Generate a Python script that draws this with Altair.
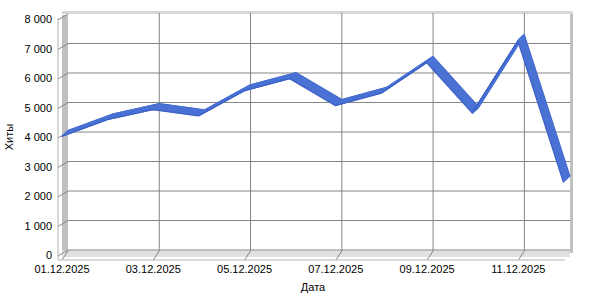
import altair as alt
import pandas as pd

# ---- data -------------------------------------------------------------
dates = ["01.12.2025", "02.12.2025", "03.12.2025", "04.12.2025", "05.12.2025",
         "06.12.2025", "07.12.2025", "08.12.2025", "09.12.2025", "10.12.2025",
         "11.12.2025", "12.12.2025"]
hits = [4050, 4620, 4960, 4750, 5600, 6010, 5100, 5520, 6560, 4850, 7290, 2490]

y_ticks = [0, 1000, 2000, 3000, 4000, 5000, 6000, 7000, 8000]
y_labels = ["0", "1 000", "2 000", "3 000", "4 000", "5 000", "6 000", "7 000", "8 000"]
x_ticks = [0, 2, 4, 6, 8, 10]
x_labels = [dates[t] for t in x_ticks]

df = pd.DataFrame({"i": list(range(len(dates))), "date": dates, "hits": hits})
ygrid = pd.DataFrame({"v": y_ticks[:-1]})
yt = pd.DataFrame({"v": y_ticks, "lab": y_labels})
xg = pd.DataFrame({"t": x_ticks[1:]})
xt = pd.DataFrame({"t": x_ticks, "lab": x_labels})
one = pd.DataFrame({"a": [0]})

W, H = 502, 236
DX, DY = -6.5, 6.0  # depth offset of the front plane

xs = alt.Scale(domain=[0, len(dates) - 1], nice=False, zero=False)
ys = alt.Scale(domain=[0, 8000], nice=False, zero=True)

FONT = "Liberation Sans"
GRID = "#858585"
WALL = "#c0c0c0"

def rect(x, x2, y, y2, color):
    return alt.Chart(one).mark_rect(color=color).encode(
        x=alt.value(x), x2=alt.value(x2), y=alt.value(y), y2=alt.value(y2))

layers = []
# walls
layers.append(rect(-6, 0, 1, 243, WALL))            # left side wall
layers.append(rect(-6, W, 236.5, 243, "#e0e0e0"))    # floor
layers.append(rect(W, W + 3, -2, 239, WALL))         # right side wall
layers.append(rect(-6, W + 3, -3, 0, "#d8d8d8"))      # top border

# gridlines
layers.append(alt.Chart(ygrid).mark_rule(color=GRID, strokeWidth=1).encode(
    y=alt.Y("v:Q", scale=ys, axis=None), x=alt.value(0), x2=alt.value(W)))
layers.append(alt.Chart(xg).mark_rule(color=GRID, strokeWidth=1).encode(
    x=alt.X("t:Q", scale=xs, axis=None), y=alt.value(-1), y2=alt.value(H + 1)))

# 3D tick connectors
layers.append(alt.Chart(yt).mark_rule(color=GRID, strokeWidth=1, yOffset=DY).encode(
    y=alt.Y("v:Q", scale=ys, axis=None), y2="v:Q", x=alt.value(-10), x2=alt.value(0)))
layers.append(alt.Chart(xt).mark_rule(color=GRID, strokeWidth=1, xOffset=-6).encode(
    x=alt.X("t:Q", scale=xs, axis=None), x2="t:Q", y=alt.value(246), y2=alt.value(237)))

# front axis lines
layers.append(alt.Chart(one).mark_rule(color="#b0b0b0").encode(
    x=alt.value(-10), y=alt.value(4), y2=alt.value(246)))
layers.append(alt.Chart(one).mark_rule(color="#b4b4b4").encode(
    x=alt.value(-10), x2=alt.value(497), y=alt.value(246)))

# ribbon
N = 10
for k in range(N + 1):
    f = k / N
    edge = k in (0, N)
    layers.append(alt.Chart(df).mark_line(
        color="#3d61c4" if edge else "#4a72d4",
        strokeWidth=1.2 if edge else 1.8,
        strokeJoin="miter", strokeCap="butt",
        xOffset=DX * f, yOffset=DY * f,
    ).encode(
        x=alt.X("i:Q", scale=xs, axis=None),
        y=alt.Y("hits:Q", scale=ys, axis=None),
        order="i:Q",
    ))

# tick labels on the front plane
layers.append(alt.Chart(yt).mark_text(font=FONT, fontSize=11, color="black",
                                      align="right", baseline="middle", yOffset=DY).encode(
    y=alt.Y("v:Q", scale=ys, axis=None), x=alt.value(-16), text="lab:N"))
layers.append(alt.Chart(xt).mark_text(font=FONT, fontSize=11, color="black",
                                      align="center", baseline="middle", xOffset=-6).encode(
    x=alt.X("t:Q", scale=xs, axis=None), y=alt.value(256), text="lab:N"))

# axis titles
layers.append(alt.Chart(one).mark_text(text="Хиты", angle=270, font=FONT, fontSize=11,
                                       color="black", align="center", baseline="middle").encode(
    x=alt.value(-58), y=alt.value(123)))
layers.append(alt.Chart(one).mark_text(text="Дата", font=FONT, fontSize=11,
                                       color="black", align="center", baseline="middle").encode(
    x=alt.value(245), y=alt.value(274)))

chart = alt.layer(*layers).properties(
    width=W, height=H,
    autosize=alt.AutoSizeParams(type="none"),
    padding={"left": 68, "top": 14, "right": 30, "bottom": 50},
    background="white",
).configure_view(stroke=None)

chart.save("out.html", embed_options={"renderer": "svg", "actions": False})
